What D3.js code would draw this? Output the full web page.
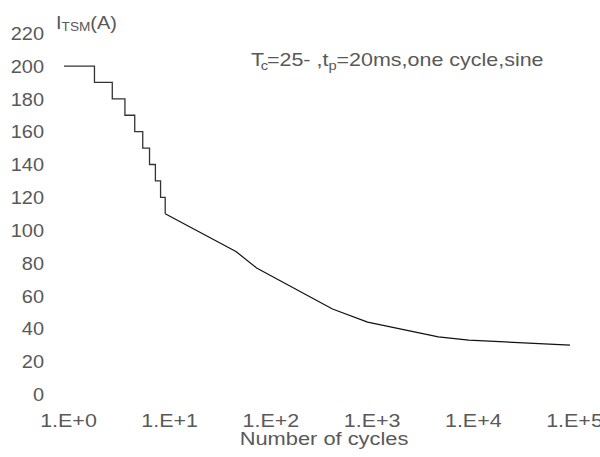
<!DOCTYPE html>
<html lang="en">
<head>
  <meta charset="utf-8">
  <title>ITSM vs cycles</title>
  <script src="https://d3js.org/d3.v7.min.js"></script>
  <style>
    body { margin: 0; background: #fff; }
    text { font-family: Arial, "Liberation Sans", sans-serif; fill: #595959; }
  </style>
</head>
<body>
  <div id="stage"></div>
  <script>
    // values
    var stepCycles = [1, 2, 3, 4, 5, 6, 7, 8, 9, 10];
    var stepCurrent = [200, 190, 180, 170, 160, 150, 140, 130, 120, 110];
    var decayCycles = [10, 50, 80, 450, 1000, 5000, 10000, 100000];
    var decayCurrent = [110, 87, 77, 52, 44, 35, 33, 30];
    var yTicks = [0, 20, 40, 60, 80, 100, 120, 140, 160, 180, 200, 220];
    var xTicks = [1, 10, 100, 1000, 10000, 100000];
    var xTickLabels = ["1.E+0", "1.E+1", "1.E+2", "1.E+3", "1.E+4", "1.E+5"];

    var W = 600, H = 457;
    var svg = d3.select("#stage").append("svg")
      .attr("width", W).attr("height", H);

    var x = d3.scaleLog().domain([1, 100000]).range([64, 570]);
    var y = d3.scaleLinear().domain([0, 220]).range([394.3, 33.2]);

    // y axis labels (no axis line in the original)
    svg.append("g").selectAll("text").data(yTicks).enter().append("text")
      .attr("text-anchor", "end")
      .attr("font-size", 19)
      .attr("transform", function (d) { return "translate(44," + (y(d) + 6.8) + ") scale(1.05,1)"; })
      .text(function (d) { return d; });

    // x axis labels
    svg.append("g").selectAll("text").data(xTicks).enter().append("text")
      .attr("text-anchor", "middle")
      .attr("font-size", 19)
      .attr("transform", function (d) { return "translate(" + (x(d) + 4.5) + ",426.7) scale(1.13,1)"; })
      .text(function (d, i) { return xTickLabels[i]; });

    svg.append("text")
      .attr("text-anchor", "middle")
      .attr("font-size", 19)
      .attr("transform", "translate(324,445) scale(1.15,1)")
      .text("Number of cycles");

    // y title I_TSM(A)
    var yt = svg.append("text").attr("font-size", 19)
      .attr("transform", "translate(56,29) scale(1.05,1)");
    yt.append("tspan").text("I");
    yt.append("tspan").attr("font-size", 13).attr("dy", 2).text("TSM");
    yt.append("tspan").attr("dy", -2).text("(A)");

    // condition note
    var note = svg.append("text").attr("font-size", 19)
      .attr("transform", "translate(251,66) scale(1.13,1)");
    note.append("tspan").text("T");
    note.append("tspan").attr("font-size", 13).attr("dx", -3).attr("dy", 4).text("c");
    note.append("tspan").attr("dx", -1).attr("dy", -4).text("=25-  ,t");
    note.append("tspan").attr("font-size", 13).attr("dy", 4).text("p");
    note.append("tspan").attr("dy", -4).text("=20ms,one cycle,sine");

    // surge current curve: stepped part then the decay part
    var stepLine = d3.line()
      .x(function (d) { return x(d[0]); })
      .y(function (d) { return y(d[1]); })
      .curve(d3.curveStepAfter);
    var decayLine = d3.line()
      .x(function (d) { return x(d[0]); })
      .y(function (d) { return y(d[1]); });

    svg.append("path")
      .datum(d3.zip(stepCycles, stepCurrent))
      .attr("d", stepLine)
      .attr("fill", "none").attr("stroke", "#333").attr("stroke-width", 1.3);

    svg.append("path")
      .datum(d3.zip(decayCycles, decayCurrent))
      .attr("d", decayLine)
      .attr("fill", "none").attr("stroke", "#111").attr("stroke-width", 1.2)
      .attr("stroke-linejoin", "round");
  </script>
</body>
</html>
